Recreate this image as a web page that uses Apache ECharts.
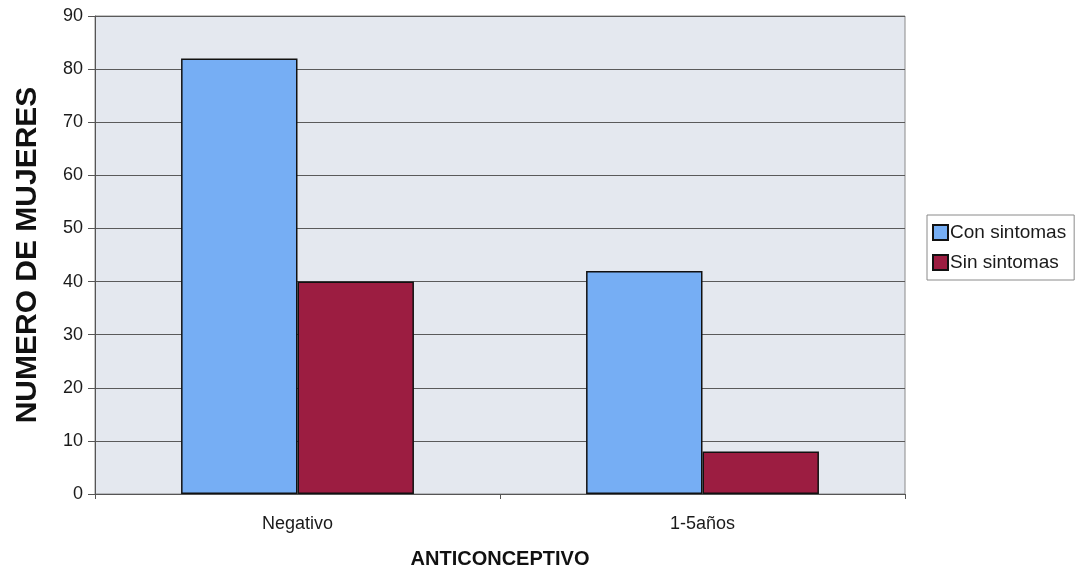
<!DOCTYPE html>
<html>
<head>
<meta charset="utf-8">
<script src="https://cdn.jsdelivr.net/npm/echarts@6/dist/echarts.min.js"></script>
<style>
  html, body { margin: 0; padding: 0; background: #ffffff; }
  #chart { width: 1080px; height: 569px; }
</style>
</head>
<body>
<div id="chart"></div>
<script>
// Categories and counts of women per group
const categories = ['Negativo', '1-5años'];
const conSintomas = [82, 42];
const sinSintomas = [40, 8];
const yTicks = { min: 0, max: 90, interval: 10 };

const chart = echarts.init(document.getElementById('chart'));
const font = 'Liberation Sans, Arial, sans-serif';

chart.setOption({
  animation: false,
  textStyle: { fontFamily: font },
  grid: {
    left: 95, right: 175, top: 16, bottom: 75,
    outerBoundsMode: 'none',
    containLabel: false,
    show: true,
    backgroundColor: '#e4e8ef',
    borderColor: '#8a8a8a',
    borderWidth: 1
  },
  legend: {
    orient: 'vertical',
    left: 927, top: 215,
    itemWidth: 15, itemHeight: 15, itemGap: 11,
    padding: [8, 8, 8, 5],
    borderColor: '#8a8a8a', borderWidth: 1,
    icon: 'rect',
    textStyle: { fontSize: 19, color: '#1a1a1a', fontFamily: font, padding: [0, 0, 0, -3] },
    data: ['Con sintomas', 'Sin sintomas']
  },
  xAxis: {
    type: 'category',
    data: categories,
    name: 'ANTICONCEPTIVO',
    nameLocation: 'middle',
    nameGap: 55,
    nameTextStyle: { fontSize: 20, fontWeight: 'bold', color: '#111', fontFamily: font },
    axisLine: { lineStyle: { color: '#555', width: 1 } },
    axisTick: { show: true, alignWithLabel: false, length: 5, lineStyle: { color: '#555' } },
    axisLabel: { fontSize: 18, color: '#1a1a1a', margin: 21, fontFamily: font }
  },
  yAxis: {
    type: 'value',
    min: yTicks.min, max: yTicks.max, interval: yTicks.interval,
    name: 'NUMERO DE MUJERES',
    nameLocation: 'middle',
    nameGap: 52,
    nameRotate: 90,
    nameTextStyle: { fontSize: 30, fontWeight: 'bold', color: '#111', fontFamily: font },
    axisLine: { show: true, lineStyle: { color: '#555', width: 1 } },
    axisTick: { show: true, length: 7, lineStyle: { color: '#555' } },
    axisLabel: { fontSize: 18, color: '#1a1a1a', margin: 12, fontFamily: font },
    splitLine: { show: true, lineStyle: { color: '#5a5a5a', width: 1 } }
  },
  series: [
    {
      name: 'Con sintomas',
      type: 'bar',
      data: conSintomas,
      barGap: '0%',
      barCategoryGap: '42.5%',
      itemStyle: { color: '#76aef4', borderColor: '#111', borderWidth: 1.5 }
    },
    {
      name: 'Sin sintomas',
      type: 'bar',
      data: sinSintomas,
      itemStyle: { color: '#9c1d41', borderColor: '#111', borderWidth: 1.5 }
    }
  ]
});
</script>
</body>
</html>
